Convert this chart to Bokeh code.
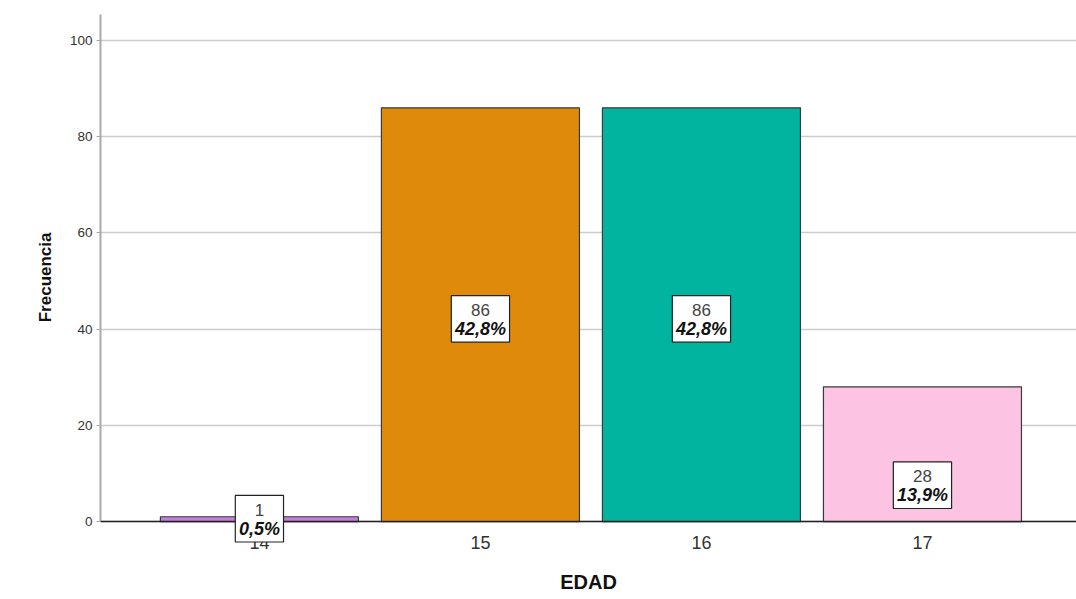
from bokeh.plotting import figure
from bokeh.models import (ColumnDataSource, Range1d, FixedTicker, LabelSet,
                          Span, Title)
from bokeh.core.properties import value
from bokeh.embed import file_html
from bokeh.resources import INLINE

# ---- data ----
edad = [14, 15, 16, 17]
frecuencia = [1, 86, 86, 28]
tick_labels = ["14", "15", "16", "17"]
y_ticks = [0, 20, 40, 60, 80, 100]
x_title = "EDAD"
y_title = "Frecuencia"

# ---- style ----
colors = ["#C47EDC", "#E08A0C", "#00B4A0", "#FDC3E2"]
label_frac = [0.6, 0.49, 0.49, 0.27]
FONT = "Liberation Sans"
X0, X1 = 13.281, 17.697
Y0, Y1 = -16.2, 105.4

total = sum(frecuencia)
pct = [f"{100.0 * v / total:.1f}".replace(".", ",") + "%" for v in frecuencia]
cnt = [str(v) for v in frecuencia]
box_txt = ["\u2009" + a + "\u2009\n\u2009" + a + "\u2009" for a in pct]
label_y = [v * f for v, f in zip(frecuencia, label_frac)]

src = ColumnDataSource(dict(x=edad, top=frecuencia, color=colors, zero=[0] * 4,
                            tick=tick_labels, ly=label_y, pct=pct, cnt=cnt,
                            box=box_txt))

p = figure(frame_width=976, frame_height=585,
           x_range=Range1d(X0, X1), y_range=Range1d(Y0, Y1),
           x_axis_location=None,
           output_backend="svg", toolbar_location=None,
           min_border_left=100, min_border_right=0, min_border_top=14,
           min_border_bottom=0, background_fill_color="white",
           border_fill_color="white")
p.outline_line_color = None

p.xgrid.grid_line_color = None
p.ygrid.grid_line_color = "#cccccc"
p.ygrid.grid_line_width = 1.5

p.vbar(x="x", top="top", bottom=0, width=0.896, source=src,
       fill_color="color", line_color="#3a3a3a", line_width=1.2)

# x axis (line, tick labels, title) drawn inside the frame
p.add_layout(Span(location=0, dimension="width", line_color="#222222",
                  line_width=1.5))
p.text(x="x", y="zero", text="tick", source=src, y_offset=21,
       text_align="center", text_baseline="middle",
       text_font=value(FONT), text_font_size="18px", text_color="#333333")
p.text(x=[(X0 + X1) / 2], y=[0], text=[x_title], y_offset=60,
       text_align="center", text_baseline="middle",
       text_font=value(FONT), text_font_size="20px",
       text_font_style="bold", text_color="#111111")

box = LabelSet(x="x", y="ly", text="box", source=src,
               text_align="center", text_baseline="middle",
               text_font=value(FONT), text_font_size="18px",
               text_font_style="bold italic", text_alpha=0,
               text_line_height=1.33,
               background_fill_color="white",
               border_line_color="#222222", border_line_width=1.2)
lab_cnt = LabelSet(x="x", y="ly", text="cnt", source=src, y_offset=9,
                   text_align="center", text_baseline="middle",
                   text_font=value(FONT), text_font_size="17px",
                   text_color="#444444")
lab_pct = LabelSet(x="x", y="ly", text="pct", source=src, y_offset=-10,
                   text_align="center", text_baseline="middle",
                   text_font=value(FONT), text_font_size="18px",
                   text_font_style="bold italic", text_color="#111111")
p.add_layout(box)
p.add_layout(lab_cnt)
p.add_layout(lab_pct)

# y axis
p.yaxis.ticker = FixedTicker(ticks=y_ticks)
p.yaxis.bounds = (0, Y1)
p.yaxis.major_label_text_font = FONT
p.yaxis.major_label_text_font_size = "13.5px"
p.yaxis.major_label_text_color = "#333333"
p.yaxis.major_label_standoff = 4
p.yaxis.major_tick_out = 4
p.yaxis.major_tick_in = 0
p.yaxis.major_tick_line_color = "#aaaaaa"
p.yaxis.minor_tick_line_color = None
p.yaxis.axis_line_color = "#aaaaaa"
p.yaxis.axis_line_width = 2

p.add_layout(Title(text=y_title, align="right", offset=218, standoff=24,
                   text_font=FONT, text_font_size="17px",
                   text_font_style="bold", text_color="#111111"), "left")

open("out.html", "w").write(file_html(p, INLINE))
